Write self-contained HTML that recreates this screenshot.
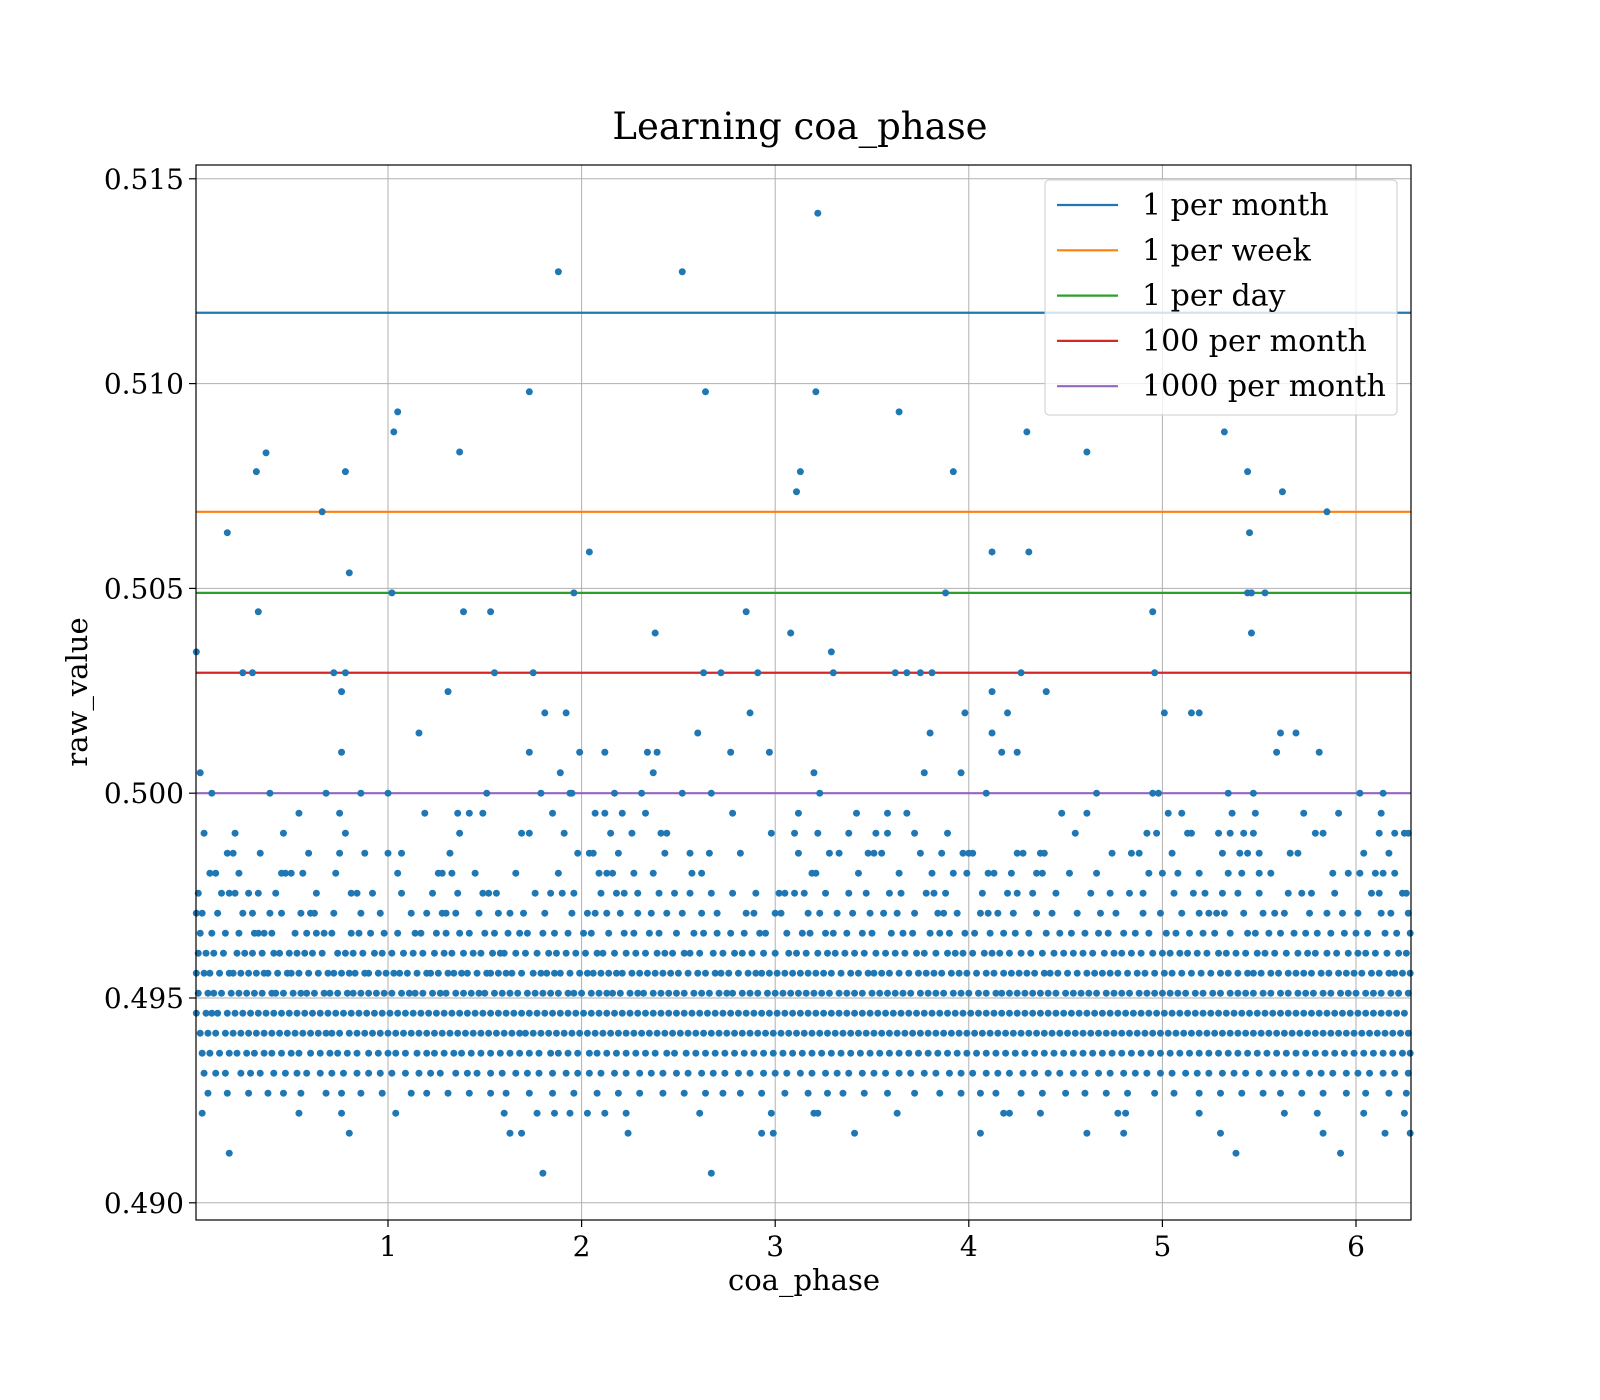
<!DOCTYPE html>
<html><head><meta charset="utf-8">
<style>
html,body{margin:0;padding:0;background:#fff;}
svg{display:block;font-family:"DejaVu Serif","Liberation Serif",serif;}
</style></head>
<body>
<svg id="chart" width="1600" height="1400" viewBox="0 0 1600 1400" xmlns="http://www.w3.org/2000/svg">
<rect width="1600" height="1400" fill="#fff"/>
<text x="800" y="139" text-anchor="middle" font-size="37">Learning coa_phase</text>
<g id="grid"></g>
<g id="hlines"></g>
<g id="pts"></g>
<rect x="196" y="165" width="1215" height="1055" fill="none" stroke="#000" stroke-width="1.2"/>
<g id="ticks"></g>
<text x="804" y="1290" text-anchor="middle" font-size="29">coa_phase</text>
<text transform="translate(87,692) rotate(-90)" text-anchor="middle" font-size="29">raw_value</text>
<g id="legend"></g>
</svg>
<script>
const xTicks=[1,2,3,4,5,6];
const yTicks=[0.490,0.495,0.500,0.505,0.510,0.515];
const yTickLabels=["0.490","0.495","0.500","0.505","0.510","0.515"];
const lineNames=["1 per month","1 per week","1 per day","100 per month","1000 per month"];
const lineValues=[0.51173,0.50687,0.50489,0.50294,0.5];
const lineColors=["#1f77b4","#ff7f0e","#2ca02c","#d62728","#9467bd"];
const outX=[0.01,0.03,0.17,0.25,0.3,0.32,0.33,0.37,0.66,0.72,0.76,0.76,0.78,0.78,0.8,1.02,1.03,1.05,1.16,1.31,1.37,1.39,1.53,1.55,1.73,1.73,1.75,1.81,1.88,1.89,1.92,1.96,1.99,2.04,2.12,2.34,2.37,2.38,2.39,2.52,2.6,2.63,2.64,2.72,2.77,2.85,2.87,2.91,2.97,3.08,3.11,3.13,3.2,3.21,3.22,3.29,3.3,3.62,3.64,3.68,3.75,3.77,3.8,3.81,3.88,3.92,3.96,3.98,4.12,4.12,4.12,4.17,4.2,4.25,4.27,4.3,4.31,4.4,4.61,4.95,4.96,5.01,5.15,5.19,5.32,5.44,5.45,5.44,5.46,5.46,5.53,5.59,5.61,5.62,5.69,5.81,5.85];
const outY=[0.50345,0.5005,0.50636,0.50294,0.50294,0.50785,0.50443,0.50831,0.50687,0.50294,0.50248,0.501,0.50785,0.50294,0.50538,0.50489,0.50882,0.50931,0.50147,0.50248,0.50833,0.50443,0.50443,0.50294,0.5098,0.501,0.50294,0.50196,0.51273,0.5005,0.50196,0.50489,0.501,0.50589,0.501,0.501,0.5005,0.50391,0.501,0.51273,0.50147,0.50294,0.5098,0.50294,0.501,0.50443,0.50196,0.50294,0.501,0.50391,0.50736,0.50785,0.5005,0.5098,0.51416,0.50345,0.50294,0.50294,0.50931,0.50294,0.50294,0.5005,0.50147,0.50294,0.50489,0.50785,0.5005,0.50196,0.50589,0.50147,0.50248,0.501,0.50196,0.501,0.50294,0.50882,0.50589,0.50248,0.50833,0.50443,0.50294,0.50196,0.50196,0.50196,0.50882,0.50785,0.50636,0.50489,0.50489,0.50391,0.50489,0.501,0.50147,0.50736,0.50147,0.501,0.50687];
// quantized levels: value = 0.5 - n/2048
const levelN=[0,1,2,3,4,5,6,7,8,9,10,11,12,13,14,15,16,17,18,19];
const levelX=[
[0.09,0.39,0.68,0.86,1.0,1.51,1.79,1.94,1.95,2.17,2.31,2.52,2.67,3.23,4.09,4.66,4.95,4.98,5.34,5.47,6.02,6.14],
[0.54,0.75,1.19,1.36,1.42,1.49,1.85,2.07,2.12,2.21,2.33,2.78,3.12,3.42,3.58,3.68,4.48,4.61,5.03,5.1,5.36,5.48,5.73,5.91,6.13],
[0.05,0.21,0.46,0.78,1.37,1.69,1.73,1.91,2.15,2.26,2.41,2.44,2.98,3.1,3.22,3.38,3.52,3.58,3.72,3.89,4.55,4.92,4.97,5.13,5.15,5.29,5.35,5.42,5.47,5.79,5.83,6.12,6.2,6.25,6.27],
[0.17,0.2,0.34,0.59,0.75,0.88,1.0,1.07,1.32,1.98,2.04,2.06,2.19,2.43,2.56,2.66,2.82,3.12,3.28,3.33,3.48,3.51,3.55,3.75,3.86,3.97,4.0,4.02,4.25,4.28,4.37,4.39,4.74,4.84,4.88,5.05,5.31,5.4,5.44,5.5,5.66,5.7,6.04,6.17],
[0.08,0.11,0.23,0.45,0.47,0.5,0.56,0.73,1.05,1.26,1.28,1.33,1.45,1.66,1.88,2.09,2.13,2.16,2.27,2.37,2.57,2.62,3.19,3.21,3.43,3.64,3.81,3.92,3.99,4.1,4.13,4.22,4.35,4.38,4.52,4.66,4.93,5.0,5.08,5.19,5.34,5.41,5.5,5.56,5.88,5.96,6.02,6.1,6.14,6.2],
[0.02,0.14,0.18,0.21,0.28,0.33,0.42,0.63,0.81,0.84,0.92,1.07,1.23,1.36,1.49,1.52,1.56,1.76,1.84,1.9,1.96,2.1,2.18,2.22,2.29,2.4,2.48,2.56,2.67,2.78,2.9,3.02,3.05,3.1,3.15,3.26,3.38,3.47,3.59,3.65,3.78,3.82,3.88,4.07,4.2,4.25,4.33,4.45,4.63,4.73,4.83,4.9,5.06,5.16,5.22,5.31,5.39,5.5,5.65,5.72,5.77,5.89,6.08,6.12,6.24,6.26],
[0.01,0.04,0.12,0.25,0.3,0.39,0.45,0.55,0.6,0.62,0.72,0.86,0.96,1.12,1.2,1.28,1.3,1.35,1.47,1.57,1.63,1.7,1.81,1.95,2.03,2.07,2.13,2.2,2.29,2.36,2.44,2.52,2.62,2.7,2.85,2.89,3.0,3.03,3.17,3.23,3.32,3.4,3.49,3.56,3.63,3.72,3.84,3.87,3.94,4.06,4.1,4.15,4.23,4.35,4.43,4.56,4.68,4.76,4.9,4.99,5.1,5.19,5.24,5.28,5.32,5.42,5.52,5.58,5.63,5.76,5.85,5.93,6.01,6.13,6.18,6.27],
[0.03,0.09,0.16,0.23,0.31,0.33,0.36,0.4,0.52,0.58,0.63,0.67,0.71,0.81,0.85,0.91,0.98,1.05,1.14,1.17,1.25,1.3,1.37,1.42,1.5,1.55,1.62,1.68,1.72,1.8,1.86,1.93,2.01,2.05,2.14,2.22,2.27,2.35,2.4,2.49,2.58,2.63,2.7,2.77,2.84,2.92,2.95,3.06,3.14,3.18,3.26,3.3,3.37,3.45,3.5,3.6,3.66,3.71,3.8,3.85,3.9,3.98,4.03,4.11,4.18,4.24,4.31,4.4,4.47,4.53,4.6,4.67,4.72,4.8,4.86,4.93,5.02,5.07,5.14,5.21,5.27,5.35,5.44,5.48,5.55,5.61,5.68,5.74,5.8,5.87,5.94,6.0,6.06,6.15,6.21,6.28],
[0.02,0.06,0.1,0.15,0.22,0.26,0.3,0.35,0.41,0.44,0.49,0.53,0.57,0.61,0.66,0.74,0.78,0.82,0.87,0.93,0.97,1.02,1.08,1.13,1.18,1.24,1.29,1.33,1.39,1.44,1.48,1.54,1.58,1.6,1.66,1.71,1.77,1.83,1.87,1.92,1.97,2.02,2.08,2.11,2.17,2.23,2.28,2.33,2.39,2.43,2.47,2.53,2.56,2.61,2.68,2.73,2.79,2.83,2.88,2.94,3.0,3.07,3.11,3.16,3.22,3.27,3.31,3.36,3.41,3.46,3.52,3.57,3.62,3.67,3.73,3.77,3.83,3.89,3.93,3.97,4.02,4.08,4.12,4.16,4.21,4.27,4.32,4.38,4.44,4.49,4.54,4.59,4.64,4.7,4.75,4.79,4.84,4.89,4.95,5.0,5.04,5.09,5.13,5.18,5.23,5.29,5.33,5.38,5.43,5.49,5.53,5.58,5.64,5.7,5.75,5.79,5.85,5.9,5.96,6.01,6.05,6.1,6.16,6.22,6.26],
[0.01,0.05,0.08,0.13,0.18,0.2,0.24,0.28,0.32,0.36,0.38,0.43,0.48,0.5,0.54,0.59,0.64,0.69,0.72,0.76,0.8,0.83,0.88,0.9,0.95,0.99,1.03,1.06,1.1,1.15,1.2,1.22,1.26,1.31,1.34,1.38,1.41,1.46,1.51,1.53,1.57,1.61,1.64,1.69,1.75,1.79,1.82,1.86,1.89,1.94,1.99,2.03,2.06,2.1,2.14,2.18,2.21,2.26,2.3,2.34,2.38,2.42,2.46,2.5,2.55,2.6,2.64,2.69,2.72,2.76,2.81,2.86,2.9,2.93,2.97,3.01,3.05,3.09,3.13,3.17,3.21,3.25,3.29,3.34,3.39,3.43,3.48,3.51,3.55,3.59,3.64,3.69,3.74,3.78,3.82,3.86,3.91,3.95,3.99,4.04,4.09,4.13,4.18,4.22,4.26,4.3,4.34,4.39,4.42,4.46,4.51,4.56,4.61,4.65,4.69,4.73,4.77,4.82,4.87,4.91,4.96,5.01,5.05,5.1,5.15,5.2,5.25,5.3,5.34,5.39,5.44,5.47,5.51,5.56,5.6,5.65,5.69,5.73,5.77,5.82,5.86,5.91,5.95,5.99,6.03,6.08,6.12,6.17,6.2,6.24,6.28],
[0.02,0.07,0.1,0.14,0.19,0.23,0.27,0.31,0.35,0.4,0.42,0.46,0.51,0.55,0.58,0.62,0.67,0.7,0.74,0.79,0.82,0.86,0.9,0.94,0.98,1.02,1.07,1.11,1.14,1.18,1.23,1.27,1.3,1.35,1.39,1.43,1.47,1.5,1.55,1.59,1.63,1.67,1.72,1.76,1.8,1.84,1.88,1.93,1.96,2.0,2.05,2.09,2.13,2.16,2.2,2.25,2.29,2.32,2.37,2.41,2.45,2.49,2.53,2.58,2.62,2.66,2.71,2.75,2.78,2.83,2.87,2.91,2.96,3.0,3.04,3.08,3.12,3.16,3.2,3.24,3.28,3.33,3.37,3.41,3.45,3.5,3.54,3.58,3.62,3.66,3.7,3.75,3.79,3.83,3.87,3.92,3.96,4.0,4.05,4.09,4.14,4.17,4.21,4.25,4.29,4.33,4.37,4.41,4.45,4.5,4.54,4.58,4.62,4.66,4.71,4.75,4.79,4.83,4.88,4.92,4.96,5.0,5.04,5.08,5.12,5.17,5.21,5.26,5.3,5.35,5.39,5.43,5.47,5.52,5.56,5.61,5.65,5.7,5.74,5.78,5.83,5.87,5.92,5.96,6.0,6.05,6.09,6.13,6.18,6.22,6.27],
[0.01,0.06,0.09,0.12,0.17,0.21,0.25,0.29,0.33,0.37,0.41,0.45,0.49,0.53,0.57,0.61,0.65,0.69,0.73,0.77,0.81,0.85,0.89,0.93,0.97,1.01,1.05,1.09,1.13,1.17,1.21,1.25,1.29,1.33,1.37,1.41,1.45,1.49,1.53,1.57,1.61,1.65,1.69,1.73,1.77,1.81,1.85,1.89,1.93,1.97,2.01,2.05,2.09,2.13,2.17,2.21,2.25,2.29,2.33,2.37,2.41,2.45,2.49,2.53,2.57,2.61,2.65,2.69,2.73,2.77,2.81,2.85,2.89,2.93,2.97,3.01,3.05,3.09,3.13,3.17,3.21,3.25,3.29,3.33,3.37,3.41,3.45,3.49,3.53,3.57,3.61,3.65,3.69,3.73,3.77,3.81,3.85,3.89,3.93,3.97,4.01,4.05,4.09,4.13,4.17,4.21,4.25,4.29,4.33,4.37,4.41,4.45,4.49,4.53,4.57,4.61,4.65,4.69,4.73,4.77,4.81,4.85,4.89,4.93,4.97,5.01,5.05,5.09,5.13,5.17,5.21,5.25,5.29,5.33,5.37,5.41,5.45,5.49,5.53,5.57,5.61,5.65,5.69,5.73,5.77,5.81,5.85,5.89,5.93,5.97,6.01,6.05,6.09,6.13,6.17,6.21,6.25],
[0.03,0.07,0.11,0.16,0.2,0.24,0.28,0.32,0.36,0.4,0.44,0.48,0.52,0.56,0.6,0.64,0.68,0.71,0.75,0.8,0.84,0.88,0.92,0.96,1.0,1.04,1.08,1.12,1.16,1.2,1.24,1.28,1.32,1.36,1.4,1.44,1.48,1.52,1.56,1.6,1.64,1.68,1.71,1.75,1.79,1.83,1.87,1.91,1.95,1.99,2.03,2.07,2.11,2.15,2.19,2.23,2.27,2.31,2.35,2.39,2.43,2.47,2.51,2.55,2.59,2.63,2.67,2.71,2.75,2.79,2.83,2.87,2.91,2.95,2.99,3.03,3.07,3.11,3.15,3.19,3.23,3.27,3.31,3.35,3.39,3.43,3.47,3.51,3.55,3.59,3.63,3.67,3.71,3.75,3.79,3.83,3.87,3.91,3.95,3.99,4.03,4.07,4.11,4.15,4.19,4.23,4.27,4.31,4.35,4.39,4.43,4.47,4.51,4.55,4.59,4.63,4.67,4.71,4.75,4.79,4.83,4.87,4.91,4.95,4.99,5.03,5.07,5.11,5.15,5.19,5.23,5.27,5.31,5.35,5.39,5.43,5.47,5.51,5.55,5.59,5.63,5.67,5.71,5.75,5.79,5.83,5.87,5.91,5.95,5.99,6.03,6.07,6.11,6.15,6.19,6.23,6.27],
[0.04,0.08,0.13,0.18,0.22,0.27,0.31,0.36,0.4,0.45,0.5,0.54,0.6,0.65,0.7,0.74,0.79,0.84,0.9,0.95,1.0,1.04,1.09,1.15,1.2,1.24,1.29,1.34,1.38,1.43,1.48,1.53,1.58,1.63,1.68,1.73,1.78,1.84,1.88,1.93,1.98,2.04,2.08,2.13,2.18,2.23,2.28,2.33,2.38,2.44,2.48,2.54,2.59,2.64,2.69,2.74,2.79,2.84,2.89,2.94,2.99,3.04,3.09,3.14,3.19,3.24,3.29,3.34,3.39,3.44,3.49,3.54,3.59,3.64,3.69,3.74,3.79,3.84,3.89,3.94,3.99,4.04,4.09,4.14,4.19,4.24,4.29,4.34,4.39,4.44,4.49,4.54,4.59,4.64,4.69,4.74,4.79,4.84,4.89,4.94,4.99,5.04,5.09,5.14,5.19,5.24,5.29,5.34,5.39,5.44,5.49,5.54,5.59,5.64,5.69,5.74,5.79,5.84,5.89,5.94,5.99,6.04,6.09,6.14,6.19,6.24,6.28],
[0.05,0.11,0.16,0.24,0.29,0.34,0.41,0.47,0.53,0.58,0.65,0.71,0.77,0.84,0.9,0.96,1.02,1.09,1.16,1.22,1.27,1.35,1.41,1.46,1.53,1.59,1.66,1.72,1.78,1.85,1.92,1.98,2.04,2.1,2.17,2.23,2.3,2.36,2.42,2.49,2.55,2.62,2.68,2.74,2.81,2.87,2.94,3.0,3.06,3.13,3.19,3.26,3.32,3.38,3.45,3.51,3.57,3.64,3.7,3.77,3.83,3.9,3.96,4.02,4.09,4.15,4.21,4.28,4.34,4.41,4.47,4.54,4.6,4.67,4.73,4.8,4.86,4.92,4.99,5.05,5.12,5.18,5.24,5.31,5.37,5.43,5.5,5.57,5.63,5.69,5.76,5.82,5.88,5.95,6.01,6.07,6.14,6.2,6.27],
[0.07,0.17,0.28,0.38,0.46,0.55,0.68,0.76,0.86,0.97,1.12,1.2,1.31,1.42,1.53,1.61,1.73,1.85,1.96,2.08,2.19,2.3,2.42,2.53,2.64,2.73,2.82,2.93,3.05,3.17,3.27,3.35,3.46,3.58,3.72,3.85,3.96,4.06,4.14,4.27,4.38,4.5,4.6,4.71,4.82,4.96,5.06,5.19,5.3,5.41,5.52,5.61,5.72,5.83,5.95,6.05,6.17,6.26],
[0.04,0.54,0.76,1.04,1.6,1.77,1.86,1.94,2.03,2.12,2.23,2.61,2.98,3.2,3.22,3.63,4.18,4.21,4.37,4.77,4.81,5.19,5.63,5.8,6.04,6.25],
[0.8,1.63,1.69,2.24,2.93,2.99,3.41,4.06,4.61,4.8,5.3,5.83,6.15,6.28],
[0.18,5.38,5.92],
[1.8,2.67]
];
const X0=194.4, XS=193.6, Y0=998, YS=-40960;
function sx(v){return X0+v*XS;}
function sy(v){return Y0+(v-0.495)*YS;}
const NS="http://www.w3.org/2000/svg";
function mk(tag,attrs,parent){const e=document.createElementNS(NS,tag);for(const k in attrs)e.setAttribute(k,attrs[k]);parent.appendChild(e);return e;}
const grid=document.getElementById('grid'), ticks=document.getElementById('ticks');
xTicks.forEach(t=>{
  const x=sx(t);
  const g=mk('line',{x1:x,x2:x,y1:165,y2:1220,stroke:'#b0b0b0','stroke-width':1},grid);
  
  
  const tk=mk('line',{x1:x,x2:x,y1:1220,y2:1227,stroke:'#000','stroke-width':1.2},ticks);
  
  
  const tl=mk('text',{x:x,y:1256,'text-anchor':'middle','font-size':28},ticks);
  tl.textContent=String(t);
  
  
});
yTicks.forEach((t,i)=>{
  const y=sy(t);
  const g=mk('line',{x1:196,x2:1411,y1:y,y2:y,stroke:'#b0b0b0','stroke-width':1},grid);
  
  
  const tk=mk('line',{x1:189,x2:196,y1:y,y2:y,stroke:'#000','stroke-width':1.2},ticks);
  
  
  const tl=mk('text',{x:184,y:y+10,'text-anchor':'end','font-size':28},ticks);
  tl.textContent=yTickLabels[i];
  
  
});
const hl=document.getElementById('hlines');
lineValues.forEach((v,i)=>{
  const l=mk('line',{x1:196,x2:1411,y1:sy(v),y2:sy(v),stroke:lineColors[i],'stroke-width':2.2},hl);
  
  
});
const pts=document.getElementById('pts');
function dot(x,y){
  const c=mk('circle',{cx:sx(x),cy:sy(y),r:3.5,fill:'#1f77b4'},pts);
  
  
}
levelN.forEach((n,i)=>{const v=0.5-n/2048;levelX[i].forEach(x=>dot(x,v));});
outX.forEach((x,i)=>dot(x,outY[i]));
const lg=document.getElementById('legend');
const box=mk('rect',{x:1045,y:180,width:352,height:235,rx:4,fill:'#fff','fill-opacity':0.8,stroke:'#ccc','stroke-width':1},lg);


lineNames.forEach((n,i)=>{
  const y=205+i*45.3;
  const l=mk('line',{x1:1057,x2:1118,y1:y,y2:y,stroke:lineColors[i],'stroke-width':2.2},lg);
  
  
  const t=mk('text',{x:1142,y:y+10,'font-size':30},lg);
  t.textContent=n;
  
  
});
</script>
</body></html>
